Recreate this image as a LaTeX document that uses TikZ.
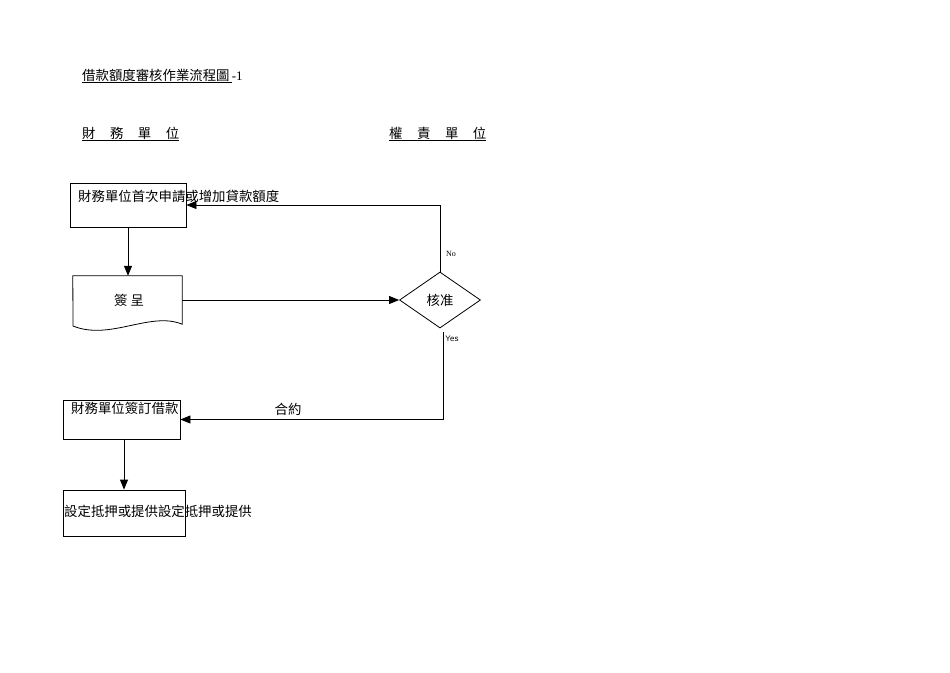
\documentclass[tikz,border=0pt]{standalone}
\usepackage{fontspec}
\usetikzlibrary{shapes.geometric,arrows.meta}
\newfontfamily\cjk{Noto Sans CJK TC}
\newfontfamily\arialfont{Liberation Sans}
\newfontfamily\timesfont{Liberation Serif}
\newcommand{\colgap}{\hspace{14.5pt}}
\tikzset{
  flowbox/.style 2 args={draw, rectangle, line width=0.8pt, minimum width=#1, minimum height=#2, inner sep=0pt},
  decision/.style={draw, diamond, line width=0.8pt, minimum width=81pt, minimum height=56pt, inner sep=0pt, font=\cjk\fontsize{13.4}{15}\selectfont},
  cjktext/.style={font=\cjk\fontsize{13.4}{15}\selectfont, inner sep=0pt},
  smalltext/.style={font=\timesfont\fontsize{8}{9}\selectfont, inner sep=0pt},
  flow/.style={-{Triangle[length=10pt,width=8pt]}, line width=0.8pt}
}
\begin{document}
\begin{tikzpicture}[x=1pt, y=-1pt]
\useasboundingbox (0,0) rectangle (950,672);
\node[cjktext, anchor=west] (title) at (82,76) {\underline{借款額度審核作業流程圖\,}{\timesfont\fontsize{13}{15}\selectfont -1}};
\node[cjktext, anchor=west] (finance) at (82,134) {\underline{財\colgap 務\colgap 單\colgap 位}};
\node[cjktext, anchor=west] (authority) at (389,134) {\underline{權\colgap 責\colgap 單\colgap 位}};

\node[flowbox={116pt}{44pt}] (apply) at (128,205) {};
\node[cjktext, anchor=west] (applytext) at (78,196) {財務單位首次申請或增加貸款額度};

\node[minimum width=109pt, minimum height=48pt, inner sep=0pt] (memo) at (127.5,300) {};
\draw[line width=0.8pt] (memo.north west) -- (memo.north east) -- (memo.south east)
  .. controls (150,311) and (110,341) .. (73,326) -- cycle;
\node[cjktext] (memotext) at (129,300) {簽 呈};

\node[decision] (approve) at (440,300) {核准};

\node[flowbox={117pt}{39pt}] (sign) at (121.5,419.5) {};
\node[cjktext, anchor=west] (signtext) at (71,408) {財務單位簽訂借款};

\node[flowbox={122pt}{46pt}] (mortgage) at (124,513) {};
\node[cjktext, anchor=west] (mortgagetext) at (64,511) {設定抵押或提供設定抵押或提供};

\draw[flow] (apply.south) -- (apply.south |- memo.north);
\draw[flow] (memo.east) -- (approve.west);
\draw[flow] (approve.north) |- (apply.east);
\node[smalltext] (nolabel) at (451,254) {No};
\draw[flow] ([shift={(3pt,-4pt)}]approve.south) |- (sign.east);
\node[smalltext, font=\arialfont\fontsize{8}{9}\selectfont] (yeslabel) at (452,339) {Yes};
\node[cjktext] (contract) at (288,409) {合約};
\draw[flow] (sign.south -| mortgage) -- (mortgage.north);
\end{tikzpicture}
\end{document}
